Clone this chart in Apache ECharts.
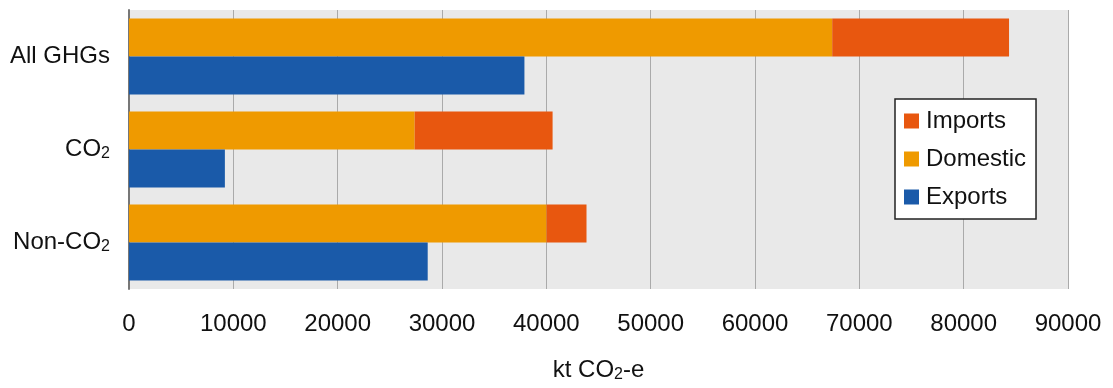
<!DOCTYPE html>
<html><head><meta charset="utf-8">
<script src="https://cdn.jsdelivr.net/npm/echarts@6/dist/echarts.min.js"></script>
<style>html,body{margin:0;padding:0;background:#fff}#c{width:1113px;height:388px}</style>
</head><body><div id="c"></div>
<script>
const categories = ['All GHGs', 'CO2', 'Non-CO2'];
const domestic = [67400, 27380, 40020];
const imports = [16950, 13220, 3830];
const exportsV = [37900, 9190, 28630];
const xTicks = [0, 10000, 20000, 30000, 40000, 50000, 60000, 70000, 80000, 90000];

const chart = echarts.init(document.getElementById('c'));
const font = 'Liberation Sans, Arial, sans-serif';
function labelFmt(v) {
  if (v.indexOf('CO2') >= 0) { return v.replace('CO2', 'CO{sub|2}'); }
  return v;
}
const subStyle = { fontSize: 16, verticalAlign: 'bottom', padding: [9, 0, 0, 0], fontFamily: font, color: '#111' };
chart.setOption({
  animation: false,
  textStyle: { fontFamily: font },
  grid: { left: 129, right: 45, top: 10, bottom: 96, show: true, backgroundColor: '#e9e9e9', borderWidth: 0 },
  legend: {
    orient: 'vertical', left: 895, top: 99,
    data: ['Imports', 'Domestic', 'Exports'],
    backgroundColor: '#fff', borderColor: '#222', borderWidth: 1.5,
    padding: [10, 10, 10, 9], itemGap: 14, itemWidth: 15, itemHeight: 15, icon: 'rect',
    textStyle: { fontSize: 24, color: '#111', fontFamily: font, padding: [0, 0, 0, 2] }
  },
  xAxis: {
    type: 'value', min: xTicks[0], max: xTicks[xTicks.length - 1], interval: 10000,
    axisLine: { show: false }, axisTick: { show: false },
    splitLine: { lineStyle: { color: '#aaa', width: 1 } },
    axisLabel: { fontSize: 24, color: '#111', margin: 23, fontFamily: font, formatter: function (v) { return String(v); } },
    name: 'kt CO{sub|2}-e', nameLocation: 'middle', nameGap: 69,
    nameTextStyle: { fontSize: 24, color: '#111', fontFamily: font, rich: { sub: subStyle } }
  },
  yAxis: {
    type: 'category', data: categories, inverse: true,
    axisLine: { show: true, lineStyle: { color: '#777', width: 2 } },
    axisTick: { show: false },
    axisLabel: { fontSize: 24, color: '#111', margin: 19, fontFamily: font, formatter: labelFmt, rich: { sub: subStyle } }
  },
  series: [
    { name: 'Domestic', type: 'bar', stack: 'a', data: domestic, itemStyle: { color: '#ef9a00' }, barWidth: 38, barGap: '0%', barCategoryGap: '20%' },
    { name: 'Imports', type: 'bar', stack: 'a', data: imports, itemStyle: { color: '#e8570f' }, barWidth: 38 },
    { name: 'Exports', type: 'bar', stack: 'b', data: exportsV, itemStyle: { color: '#1a5aa9' }, barWidth: 38 }
  ]
});
</script></body></html>
